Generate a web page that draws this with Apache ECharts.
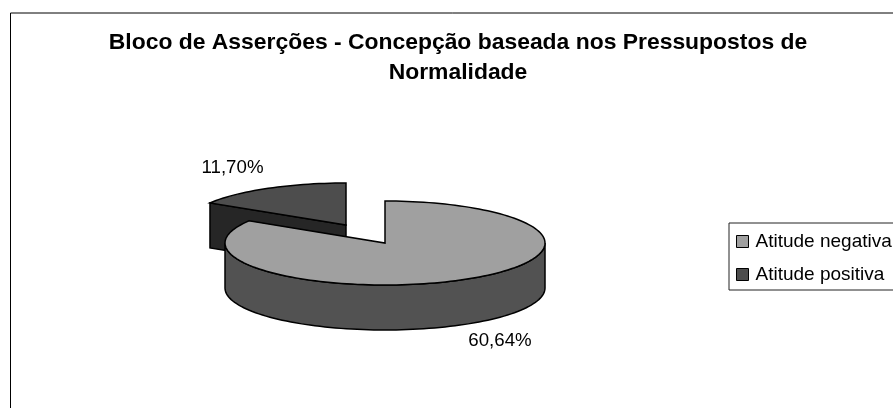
<!DOCTYPE html>
<html>
<head>
<meta charset="utf-8">
<style>html,body{margin:0;padding:0;background:#fff}#main{width:893px;height:408px}</style>
<script src="https://cdn.jsdelivr.net/npm/echarts@6/dist/echarts.min.js"></script>
</head>
<body>
<div id="main"></div>
<script>
var categories = ['Atitude negativa', 'Atitude positiva'];
var values = [60.64, 11.70];
var valueLabels = ['60,64%', '11,70%'];

// desenho da pizza 3D
var topColors = ['#a0a0a0', '#4d4d4d'];
var sideColors = ['#525252', '#4d4d4d'];
var cutColors = ['#262626', '#262626'];
var center = [385, 243];
var rx = 160, ry = 42, depth = 45;
var explode = [[0, 0], [-39, -18]];
var labelPos = [[500, 341], [232.5, 168]];

var total = 0;
for (var i = 0; i < values.length; i++) total += values[i];

function pt(cx, cy, deg, dy) {
	var a = deg * Math.PI / 180;
	return [cx + rx * Math.sin(a), cy - ry * Math.cos(a) + (dy || 0)];
}
function arc(cx, cy, from, to, dy) {
	var out = [];
	var n = Math.max(2, Math.ceil(Math.abs(to - from) / 2));
	for (var k = 0; k <= n; k++) out.push(pt(cx, cy, from + (to - from) * k / n, dy));
	return out;
}
function poly(points, fill) {
	return {
		type: 'polygon',
		shape: { points: points },
		style: { fill: fill, stroke: '#000', lineWidth: 1.5 }
	};
}

function renderSlice(params, api) {
	var idx = params.seriesIndex;
	var start = api.value(1) / total * 360;
	var end = start + api.value(0) / total * 360;
	var cx = center[0] + explode[idx][0];
	var cy = center[1] + explode[idx][1];
	var kids = [];
	// parede do corte
	if (start > 180 && start < 360) {
		var e = pt(cx, cy, start);
		kids.push(poly([[cx, cy], e, [e[0], e[1] + depth], [cx, cy + depth]], cutColors[idx]));
	}
	// parede externa, so a metade da frente aparece
	var a1 = Math.max(start, 90), a2 = Math.min(end, 270);
	if (a2 > a1) {
		kids.push(poly(arc(cx, cy, a1, a2).concat(arc(cx, cy, a2, a1, depth)), sideColors[idx]));
	}
	// tampo
	kids.push(poly([[cx, cy]].concat(arc(cx, cy, start, end)), topColors[idx]));
	kids.push({
		type: 'text',
		style: {
			text: valueLabels[idx],
			x: labelPos[idx][0],
			y: labelPos[idx][1],
			fill: '#000',
			font: '18.7px "Liberation Sans", Arial, sans-serif',
			align: 'center',
			verticalAlign: 'middle'
		}
	});
	return { type: 'group', children: kids };
}

var series = [];
var acc = 0;
for (var j = 0; j < categories.length; j++) {
	series.push({
		type: 'custom',
		name: categories[j],
		coordinateSystem: 'none',
		renderItem: renderSlice,
		silent: true,
		animation: false,
		z: 5 - j,
		itemStyle: { color: topColors[j], borderColor: '#000', borderWidth: 1 },
		data: [[values[j], acc]]
	});
	acc += values[j];
}

var chart = echarts.init(document.getElementById('main'));
chart.setOption({
	backgroundColor: '#fff',
	animation: false,
	title: {
		text: 'Bloco de Asserções - Concepção baseada nos Pressupostos de\nNormalidade',
		left: 453,
		top: 23,
		textAlign: 'center',
		textStyle: {
			fontFamily: '"Liberation Sans", Arial, sans-serif',
			fontSize: 22.9,
			fontWeight: 'bold',
			color: '#000',
			lineHeight: 30
		}
	},
	legend: {
		orient: 'vertical',
		left: 729,
		top: 223,
		padding: [9, 30, 6, 7],
		itemWidth: 12,
		itemHeight: 12,
		itemGap: 14,
		itemStyle: { borderWidth: 1, borderColor: '#000' },
		icon: 'rect',
		borderColor: '#222',
		borderWidth: 1,
		data: categories,
		textStyle: {
			fontFamily: '"Liberation Sans", Arial, sans-serif',
			fontSize: 19,
			color: '#000',
			padding: [0, 0, 0, 2]
		}
	},
	graphic: [{
		type: 'rect',
		silent: true,
		z: 0,
		shape: { x: 10.5, y: 13, width: 1000, height: 600 },
		style: { fill: 'none', stroke: '#000', lineWidth: 1 }
	}],
	series: series
});
</script>
</body>
</html>
